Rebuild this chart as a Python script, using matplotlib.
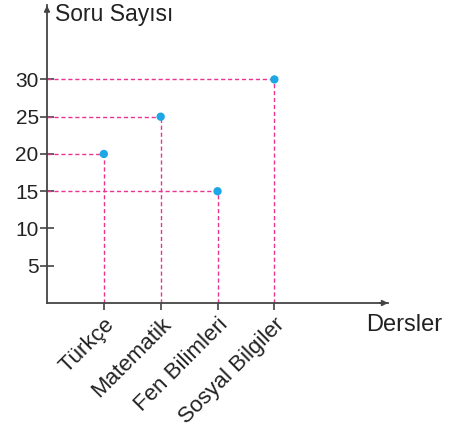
import matplotlib
matplotlib.use('Agg')
import matplotlib.pyplot as plt

plt.rcParams['font.family'] = ['Liberation Sans', 'DejaVu Sans']

dersler = ["Türkçe", "Matematik", "Fen Bilimleri", "Sosyal Bilgiler"]
soru = [20, 25, 15, 30]
yticks = [5, 10, 15, 20, 25, 30]

pink = '#e8338f'
blue = '#1ea6e6'
axc = '#444444'

fig = plt.figure(figsize=(4.5, 4.32), dpi=100)
ax = fig.add_axes([0.1044, 0.2986, 0.758, 0.690])

xs = list(range(1, len(dersler) + 1))
for x, y in zip(xs, soru):
    ax.plot([0, x], [y, y], color=pink, lw=1.0, ls=(0, (3, 2)), zorder=2)
    ax.plot([x, x], [0, y], color=pink, lw=1.0, ls=(0, (3, 2)), zorder=2)
ax.scatter(xs, soru, s=36, color=blue, zorder=3, edgecolors='none')

ax.set_xlim(0, 6)
ax.set_ylim(0, 40)
for s in ['top', 'right']:
    ax.spines[s].set_visible(False)
for s in ['left', 'bottom']:
    ax.spines[s].set_color(axc)
    ax.spines[s].set_linewidth(1.3)

ax.set_yticks(yticks)
ax.set_yticklabels([str(v) for v in yticks], fontsize=15, color='#222222')
ax.set_xticks(xs)
ax.set_xticklabels(dersler, fontsize=16, rotation=45, ha='right',
                   rotation_mode='anchor', color='#222222')
ax.tick_params(axis='y', direction='inout', length=10, width=1.2, color=axc, pad=1)
ax.tick_params(axis='x', direction='out', length=5, width=1.2, color=axc, pad=3)

# arrows
ax.annotate('', xy=(0, 40.3), xytext=(0, 39), annotation_clip=False,
            arrowprops=dict(arrowstyle='-|>', color=axc, lw=1.3, mutation_scale=8))
ax.annotate('', xy=(6.05, 0), xytext=(5.8, 0), annotation_clip=False,
            arrowprops=dict(arrowstyle='-|>', color=axc, lw=1.3, mutation_scale=8))

fig.text(55 / 450, 1 - 15 / 432, "Soru Sayısı", fontsize=16.5, va='center', ha='left', color='#222222')
fig.text(366 / 450, 1 - 325 / 432, "Dersler", fontsize=17, va='center', ha='left', color='#222222')

fig.savefig('out.png', dpi=100)
